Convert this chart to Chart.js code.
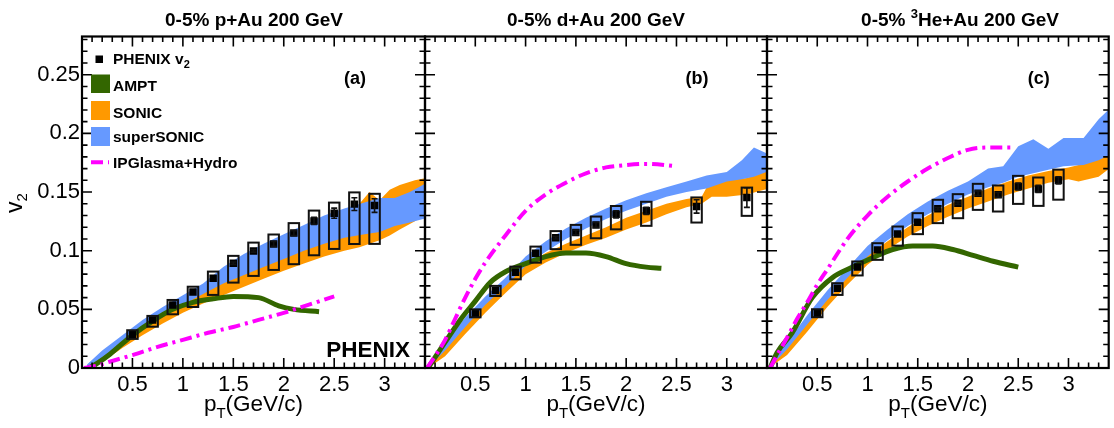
<!DOCTYPE html>
<html>
<head>
<meta charset="utf-8">
<title>PHENIX v2 vs pT</title>
<script src="https://cdn.jsdelivr.net/npm/chart.js@4.4.1/dist/chart.umd.min.js"></script>
<style>
  body { margin: 0; background: #fff; }
  #wrap { position: relative; width: 1114px; height: 428px; }
  #wrap canvas { position: absolute; left: 0; top: 0; }
</style>
</head>
<body>
<div id="wrap">
  <canvas id="panelA" width="1114" height="428"></canvas>
  <canvas id="panelB" width="1114" height="428"></canvas>
  <canvas id="panelC" width="1114" height="428"></canvas>
</div>
<script>
/* ---- values ---- */

// p+Au
const ptA     = [0.5, 0.7, 0.9, 1.1, 1.3, 1.5, 1.7, 1.9, 2.1, 2.3, 2.5, 2.7, 2.9];
const v2A     = [0.0285, 0.041, 0.0538, 0.0648, 0.0765, 0.0893, 0.0998, 0.1058, 0.115, 0.1254, 0.132, 0.1397, 0.1385];
const sysUpA  = [0.0037, 0.0034, 0.0042, 0.0045, 0.0057, 0.0063, 0.0071, 0.008, 0.0085, 0.0088, 0.009, 0.01, 0.01];
const sysDnA  = [0.0037, 0.0058, 0.008, 0.0128, 0.0142, 0.0165, 0.0213, 0.0222, 0.0265, 0.0293, 0.0305, 0.034, 0.0327];
const statA   = [0, 0, 0, 0, 0, 0.001, 0.001, 0.002, 0.002, 0.003, 0.0043, 0.0054, 0.0058];
const amptPtA = [0.07, 0.15, 0.28, 0.5, 0.7, 0.9, 1.1, 1.3, 1.5, 1.75, 1.95, 2.1, 2.35];
const amptA   = [0, 0.004, 0.012, 0.028, 0.040, 0.050, 0.056, 0.059, 0.061, 0.060, 0.053, 0.050, 0.048];
const ipgPtA  = [0.02, 0.15, 0.3, 0.5, 0.75, 1.0, 1.25, 1.5, 1.75, 2.0, 2.25, 2.5];
const ipgA    = [0, 0.002, 0.006, 0.011, 0.018, 0.024, 0.030, 0.035, 0.041, 0.047, 0.054, 0.061];
const sonicPtA = [0.05, 0.2, 0.4, 0.6, 0.8, 1.0, 1.2, 1.4, 1.6, 1.8, 2.0, 2.2, 2.4, 2.6, 2.75, 2.85, 2.95, 3.05, 3.15, 3.3, 3.42];
const sonicLoA = [0, 0.005, 0.017, 0.028, 0.038, 0.047, 0.055, 0.062, 0.069, 0.076, 0.083, 0.089, 0.095, 0.100, 0.103, 0.106, 0.109, 0.113, 0.118, 0.125, 0.132];
const sonicHiA = [0.002, 0.010, 0.023, 0.035, 0.045, 0.055, 0.064, 0.073, 0.081, 0.088, 0.095, 0.101, 0.107, 0.112, 0.140, 0.150, 0.143, 0.152, 0.156, 0.160, 0.162];
const superPtA = [0.05, 0.2, 0.4, 0.6, 0.8, 1.0, 1.2, 1.4, 1.6, 1.8, 2.0, 2.2, 2.4, 2.6, 2.8, 2.95, 3.1, 3.25, 3.42];
const superLoA = [0, 0.009, 0.021, 0.033, 0.044, 0.054, 0.063, 0.072, 0.079, 0.086, 0.093, 0.100, 0.106, 0.111, 0.114, 0.116, 0.121, 0.124, 0.128];
const superHiA = [0.003, 0.015, 0.028, 0.041, 0.052, 0.062, 0.072, 0.086, 0.097, 0.106, 0.114, 0.122, 0.130, 0.136, 0.141, 0.145, 0.145, 0.150, 0.158];

// d+Au
const ptB     = [0.5, 0.7, 0.9, 1.1, 1.3, 1.5, 1.7, 1.9, 2.2, 2.7, 3.2];
const v2B     = [0.0466, 0.066, 0.0816, 0.0978, 0.111, 0.1155, 0.122, 0.131, 0.134, 0.1377, 0.1453];
const sysUpB  = [0.0034, 0.004, 0.0048, 0.0057, 0.0057, 0.0065, 0.0071, 0.0071, 0.0077, 0.0077, 0.0085];
const sysDnB  = [0.0034, 0.0046, 0.006, 0.008, 0.0097, 0.0105, 0.0114, 0.0128, 0.0128, 0.0137, 0.0156];
const statB   = [0, 0, 0, 0, 0.001, 0.002, 0.002, 0.003, 0.003, 0.0057, 0.0084];
const amptPtB = [0.03, 0.2, 0.35, 0.5, 0.65, 0.8, 1.0, 1.2, 1.4, 1.6, 1.8, 2.0, 2.2, 2.35];
const amptB   = [0, 0.022, 0.041, 0.057, 0.073, 0.082, 0.089, 0.095, 0.098, 0.098, 0.095, 0.089, 0.086, 0.085];
const ipgPtB  = [0.02, 0.1, 0.2, 0.3, 0.4, 0.5, 0.6, 0.8, 1.0, 1.2, 1.4, 1.6, 1.8, 2.0, 2.2, 2.5];
const ipgB    = [0, 0.010, 0.024, 0.042, 0.060, 0.076, 0.090, 0.113, 0.134, 0.148, 0.158, 0.166, 0.171, 0.173, 0.174, 0.172];
const sonicPtB = [0.03, 0.2, 0.4, 0.6, 0.8, 1.0, 1.2, 1.4, 1.6, 1.8, 2.0, 2.2, 2.4, 2.6, 2.75, 2.85, 3.0, 3.2, 3.42];
const sonicLoB = [0, 0.010, 0.029, 0.047, 0.064, 0.080, 0.090, 0.098, 0.105, 0.111, 0.118, 0.124, 0.131, 0.137, 0.140, 0.146, 0.146, 0.148, 0.153];
const sonicHiB = [0.001, 0.017, 0.037, 0.055, 0.072, 0.088, 0.098, 0.106, 0.113, 0.120, 0.128, 0.134, 0.140, 0.144, 0.146, 0.162, 0.160, 0.162, 0.169];
const superPtB = [0.03, 0.2, 0.4, 0.6, 0.8, 1.0, 1.2, 1.4, 1.6, 1.8, 2.0, 2.2, 2.4, 2.6, 2.8, 3.0, 3.15, 3.27, 3.42];
const superLoB = [0, 0.015, 0.035, 0.054, 0.070, 0.087, 0.099, 0.110, 0.119, 0.127, 0.134, 0.140, 0.146, 0.150, 0.153, 0.159, 0.161, 0.163, 0.168];
const superHiB = [0.002, 0.022, 0.043, 0.061, 0.077, 0.095, 0.108, 0.119, 0.128, 0.136, 0.143, 0.149, 0.154, 0.159, 0.164, 0.167, 0.177, 0.188, 0.182];

// 3He+Au
const ptC     = [0.5, 0.7, 0.9, 1.1, 1.3, 1.5, 1.7, 1.9, 2.1, 2.3, 2.5, 2.7, 2.9];
const v2C     = [0.0467, 0.068, 0.086, 0.1007, 0.1143, 0.1243, 0.1357, 0.1405, 0.149, 0.1476, 0.1547, 0.1527, 0.160];
const sysUpC  = [0.0034, 0.0043, 0.0048, 0.0057, 0.0063, 0.0077, 0.0077, 0.0077, 0.008, 0.008, 0.0091, 0.0097, 0.0091];
const sysDnC  = [0.0034, 0.0057, 0.0071, 0.0085, 0.01, 0.0102, 0.0122, 0.0128, 0.0142, 0.0142, 0.0148, 0.0145, 0.0165];
const statC   = [0, 0, 0, 0, 0, 0, 0.001, 0.001, 0.002, 0.002, 0.003, 0.003, 0.003];
const amptPtC = [0.03, 0.1, 0.25, 0.45, 0.65, 0.85, 1.05, 1.25, 1.45, 1.65, 1.85, 2.05, 2.25, 2.5];
const amptC   = [0, 0.013, 0.030, 0.060, 0.077, 0.086, 0.094, 0.101, 0.104, 0.104, 0.101, 0.096, 0.091, 0.086];
const ipgPtC  = [0.03, 0.1, 0.2, 0.3, 0.4, 0.5, 0.6, 0.8, 1.0, 1.2, 1.4, 1.6, 1.8, 2.0, 2.2, 2.45];
const ipgC    = [0, 0.011, 0.026, 0.042, 0.056, 0.071, 0.084, 0.110, 0.130, 0.146, 0.159, 0.170, 0.179, 0.186, 0.188, 0.188];
const sonicPtC = [0.02, 0.2, 0.4, 0.6, 0.8, 1.0, 1.2, 1.4, 1.6, 1.8, 2.0, 2.2, 2.4, 2.6, 2.8, 3.0, 3.1, 3.3, 3.42];
const sonicLoC = [0, 0.011, 0.031, 0.052, 0.071, 0.088, 0.101, 0.112, 0.121, 0.129, 0.136, 0.142, 0.148, 0.153, 0.158, 0.161, 0.159, 0.163, 0.171];
const sonicHiC = [0.001, 0.017, 0.039, 0.059, 0.079, 0.096, 0.108, 0.120, 0.130, 0.139, 0.146, 0.153, 0.159, 0.164, 0.168, 0.171, 0.173, 0.180, 0.184];
const superPtC = [0.02, 0.2, 0.4, 0.6, 0.8, 1.0, 1.2, 1.4, 1.6, 1.8, 2.0, 2.2, 2.35, 2.5, 2.65, 2.8, 2.95, 3.15, 3.3, 3.42];
const superLoC = [0, 0.016, 0.037, 0.058, 0.077, 0.095, 0.109, 0.121, 0.131, 0.140, 0.148, 0.154, 0.158, 0.163, 0.166, 0.169, 0.172, 0.173, 0.177, 0.182];
const superHiC = [0.002, 0.022, 0.045, 0.066, 0.085, 0.104, 0.118, 0.131, 0.142, 0.151, 0.159, 0.170, 0.172, 0.189, 0.195, 0.187, 0.196, 0.196, 0.212, 0.222];

const legendNames = ['PHENIX v', 'AMPT', 'SONIC', 'superSONIC', 'IPGlasma+Hydro'];

/* ---- styling ---- */
const FONT = '"Liberation Sans", Arial, Helvetica, sans-serif';
const ORANGE = '#ff9900';
const BLUE = '#6699ff';
const GREEN = '#336600';
const MAGENTA = '#ff00ff';
const DASHDOT = [12, 5, 3, 5];

Chart.defaults.font.family = FONT;
Chart.defaults.color = '#000';

const xy = (xs, ys) => xs.map((x, i) => ({ x: x, y: ys[i] }));

// draw text made of pieces (for sub/superscripts)
function rich(ctx, parts, x, y, align) {
  let w = 0;
  parts.forEach(p => { ctx.font = p.f; p.w = ctx.measureText(p.t).width; w += p.w; });
  let cx = align === 'center' ? x - w / 2 : (align === 'right' ? x - w : x);
  ctx.textAlign = 'left';
  ctx.textBaseline = 'alphabetic';
  parts.forEach(p => { ctx.font = p.f; ctx.fillText(p.t, cx, y + (p.dy || 0)); cx += p.w; });
}

const bold = s => 'bold ' + s + 'px ' + FONT;
const norm = s => s + 'px ' + FONT;

const panels = [
  { canvas: 'panelA', left: 82, right: 425, titleX: 254, yLabels: true, tag: '(a)',
    title: [{ t: '0-5% p+Au 200 GeV', f: bold(19) }],
    pt: ptA, v2: v2A, up: sysUpA, dn: sysDnA, stat: statA,
    amptPt: amptPtA, ampt: amptA, ipgPt: ipgPtA, ipg: ipgA,
    sonicPt: sonicPtA, sonicLo: sonicLoA, sonicHi: sonicHiA,
    superPt: superPtA, superLo: superLoA, superHi: superHiA },
  { canvas: 'panelB', left: 425, right: 767, titleX: 596, yLabels: false, tag: '(b)',
    title: [{ t: '0-5% d+Au 200 GeV', f: bold(19) }],
    pt: ptB, v2: v2B, up: sysUpB, dn: sysDnB, stat: statB,
    amptPt: amptPtB, ampt: amptB, ipgPt: ipgPtB, ipg: ipgB,
    sonicPt: sonicPtB, sonicLo: sonicLoB, sonicHi: sonicHiB,
    superPt: superPtB, superLo: superLoB, superHi: superHiB },
  { canvas: 'panelC', left: 767, right: 1110, titleX: 960, yLabels: false, tag: '(c)',
    title: [{ t: '0-5% ', f: bold(19) }, { t: '3', f: bold(13), dy: -8 }, { t: 'He+Au 200 GeV', f: bold(19) }],
    pt: ptC, v2: v2C, up: sysUpC, dn: sysDnC, stat: statC,
    amptPt: amptPtC, ampt: amptC, ipgPt: ipgPtC, ipg: ipgC,
    sonicPt: sonicPtC, sonicLo: sonicLoC, sonicHi: sonicHiC,
    superPt: superPtC, superLo: superLoC, superHi: superHiC }
];

function makeDeco(p) {
  return {
    id: 'deco',
    afterDatasetsDraw(chart) {
      const { ctx, scales: { x, y } } = chart;
      ctx.save();
      ctx.strokeStyle = '#111';
      // systematic boxes
      ctx.lineWidth = 2;
      p.pt.forEach((pt, i) => {
        const l = x.getPixelForValue(pt - 0.052), r = x.getPixelForValue(pt + 0.052);
        const t = y.getPixelForValue(p.v2[i] + p.up[i]), b = y.getPixelForValue(p.v2[i] - p.dn[i]);
        ctx.strokeRect(l, t, r - l, b - t);
      });
      // statistical bars
      ctx.lineWidth = 1.6;
      p.pt.forEach((pt, i) => {
        if (!p.stat[i]) return;
        const cx = x.getPixelForValue(pt);
        const t = y.getPixelForValue(p.v2[i] + p.stat[i]), b = y.getPixelForValue(p.v2[i] - p.stat[i]);
        ctx.beginPath();
        ctx.moveTo(cx, t); ctx.lineTo(cx, b);
        ctx.moveTo(cx - 3, t); ctx.lineTo(cx + 3, t);
        ctx.moveTo(cx - 3, b); ctx.lineTo(cx + 3, b);
        ctx.stroke();
      });
      ctx.restore();
    },
    afterDraw(chart) {
      const { ctx, chartArea: a, scales: { x, y } } = chart;
      ctx.save();
      ctx.strokeStyle = '#000';
      ctx.fillStyle = '#000';

      // inward ticks on all four sides
      ctx.lineWidth = 1.6;
      ctx.beginPath();
      for (let k = 1; k < 34; k++) {
        const px = x.getPixelForValue(k / 10), len = k % 5 ? 5.5 : 10;
        ctx.moveTo(px, a.bottom); ctx.lineTo(px, a.bottom - len);
        ctx.moveTo(px, a.top); ctx.lineTo(px, a.top + len);
      }
      for (let k = 1; k <= 28; k++) {
        const py = y.getPixelForValue(k / 100), len = k % 5 ? 5.5 : 10;
        ctx.moveTo(a.left, py); ctx.lineTo(a.left + len, py);
        ctx.moveTo(a.right, py); ctx.lineTo(a.right - len, py);
      }
      ctx.stroke();
      ctx.lineWidth = 2.2;
      ctx.strokeRect(a.left, a.top, a.right - a.left, a.bottom - a.top);

      // titles and labels
      rich(ctx, p.title, p.titleX, 26, 'center');
      rich(ctx, [{ t: p.tag, f: bold(18) }], a.right - 70, 84, 'center');
      rich(ctx, [{ t: 'p', f: norm(22.5) }, { t: 'T', f: norm(15), dy: 7 }, { t: '(GeV/c)', f: norm(22.5) }],
        (a.left + a.right) / 2, 411, 'center');

      if (p.yLabels) {
        // y axis title
        ctx.save();
        ctx.translate(22, 203);
        ctx.rotate(-Math.PI / 2);
        rich(ctx, [{ t: 'v', f: norm(23) }, { t: '2', f: norm(15), dy: 5 }], 0, 0, 'center');
        ctx.restore();

        // legend
        const lx = 91, tx = 113;
        ctx.fillStyle = '#000';
        ctx.fillRect(95.5, 55.5, 7.5, 7.5);
        rich(ctx, [{ t: legendNames[0], f: bold(15.5) }, { t: '2', f: bold(11), dy: 4 }], tx, 63.5, 'left');
        ctx.fillStyle = GREEN;  ctx.fillRect(lx, 74.5, 19, 18.5);
        ctx.fillStyle = ORANGE; ctx.fillRect(lx, 101, 19, 19);
        ctx.fillStyle = BLUE;   ctx.fillRect(lx, 127, 19, 19);
        ctx.strokeStyle = MAGENTA;
        ctx.lineWidth = 4;
        ctx.setLineDash(DASHDOT);
        ctx.beginPath(); ctx.moveTo(lx, 162.3); ctx.lineTo(lx + 18, 162.3); ctx.stroke();
        ctx.setLineDash([]);
        ctx.fillStyle = '#000';
        rich(ctx, [{ t: legendNames[1], f: bold(15.5) }], tx, 91, 'left');
        rich(ctx, [{ t: legendNames[2], f: bold(15.5) }], tx, 117.5, 'left');
        rich(ctx, [{ t: legendNames[3], f: bold(15.5) }], tx, 141.5, 'left');
        rich(ctx, [{ t: legendNames[4], f: bold(15.5) }], tx, 167.5, 'left');

        rich(ctx, [{ t: 'PHENIX', f: bold(22.5) }], 410, 357, 'right');
      }
      ctx.restore();
    }
  };
}

function band(pts, lo, hi, color, order) {
  return [
    { data: xy(pts, lo), borderWidth: 0, borderColor: 'transparent', pointRadius: 0, fill: false, order: order },
    { data: xy(pts, hi), borderWidth: 0, borderColor: 'transparent', pointRadius: 0, fill: '-1',
      backgroundColor: color, order: order }
  ];
}

function makePanel(p) {
  const datasets = [].concat(
    band(p.sonicPt, p.sonicLo, p.sonicHi, ORANGE, 6),
    band(p.superPt, p.superLo, p.superHi, BLUE, 5),
    [
      { data: xy(p.amptPt, p.ampt), borderColor: GREEN, borderWidth: 5, pointRadius: 0,
        cubicInterpolationMode: 'monotone', fill: false, order: 4 },
      { data: xy(p.ipgPt, p.ipg), borderColor: MAGENTA, borderWidth: 4, borderDash: DASHDOT,
        pointRadius: 0, cubicInterpolationMode: 'monotone', fill: false, order: 3 },
      { data: xy(p.pt, p.v2), showLine: false, pointStyle: 'rect', pointRadius: 5.3,
        pointBackgroundColor: '#000', pointBorderWidth: 0, fill: false, order: 1 }
    ]
  );

  return new Chart(document.getElementById(p.canvas), {
    type: 'line',
    data: { datasets: datasets },
    options: {
      responsive: false,
      animation: false,
      events: [],
      layout: { padding: { left: 0, top: 36.5, right: 1114 - p.right, bottom: 0 } },
      plugins: { legend: { display: false }, tooltip: { enabled: false } },
      scales: {
        x: {
          type: 'linear', min: 0, max: 3.4,
          grid: { display: false, drawTicks: false },
          border: { display: false },
          ticks: {
            stepSize: 0.5, includeBounds: false, autoSkip: false, maxRotation: 0,
            padding: 4, font: { size: 22 }, color: '#000',
            callback: v => (v === 0 ? '' : String(v))
          },
          afterFit: s => { s.height = 60; }
        },
        y: {
          type: 'linear', min: 0, max: 0.2826,
          grid: { display: false, drawTicks: false },
          border: { display: false },
          ticks: {
            display: p.yLabels, stepSize: 0.05, includeBounds: false,
            padding: 2, font: { size: 22 }, color: '#000',
            callback: v => String(+v.toFixed(3))
          },
          afterFit: s => { s.width = p.left; }
        }
      }
    },
    plugins: [makeDeco(p)]
  });
}

panels.forEach(makePanel);
</script>
</body>
</html>
